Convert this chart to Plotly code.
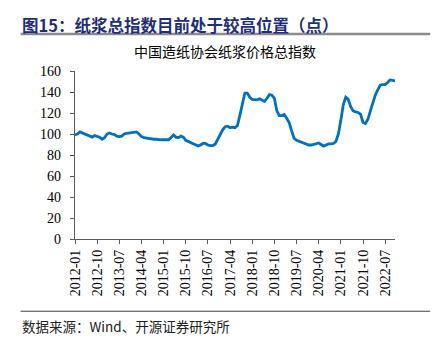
import plotly.graph_objects as go
import pandas as pd

months = pd.date_range("2012-01-01", periods=131, freq="MS").strftime("%Y-%m").tolist()
values = [
    99, 100, 102, 101, 99.5, 99, 97.5, 97, 98.5, 98,
    97, 95, 96.5, 100, 101, 100, 99.5, 98, 97.5, 98,
    100, 100.5, 101, 101, 101.5, 102, 100, 97.5, 96.5, 96,
    96, 95.5, 95, 95, 94.5, 94.5, 94.5, 94.3, 94.5, 96.5,
    99, 97, 96.5, 98, 97, 94, 93, 92, 91, 90,
    88.5, 89.5, 91, 91, 89.5, 89, 89, 90.5, 95, 100.5,
    104, 107, 107.5, 106, 106.5, 106, 108, 118, 130, 139,
    139, 135, 133, 132.5, 132.5, 133.5, 132, 131, 134, 137.5,
    137, 134, 122, 117.5, 117.5, 118.5, 115, 111, 103, 96,
    94, 93, 92, 91.5, 90.5, 89.5, 89.5, 90, 90.5, 91.5,
    90, 88.5, 89.5, 90.5, 90.5, 91, 93, 100, 113, 128,
    135, 133, 126, 122, 121, 120.5, 119, 111, 110, 114,
    122, 130, 137, 142, 146.5, 147, 147, 149, 151.5, 151, 150.5,
]
tick_labels = months[::9]
y_ticks = [0, 20, 40, 60, 80, 100, 120, 140, 160]

main_title = "图15：纸浆总指数目前处于较高位置（点）"
chart_title = "中国造纸协会纸浆价格总指数"
source_text = "数据来源：Wind、开源证券研究所"

fig = go.Figure()
fig.add_trace(go.Scatter(
    x=months, y=values, mode="lines",
    line=dict(color="#0070C0", width=2.8),
    hoverinfo="skip", showlegend=False,
))

serif = "Liberation Serif, Times New Roman, serif"
fig.update_layout(
    width=442, height=344,
    margin=dict(l=75, r=47, t=71, b=105),
    paper_bgcolor="white", plot_bgcolor="white",
    xaxis=dict(
        type="category", range=[0, len(months) - 1], autorange=False,
        tickmode="array", tickvals=tick_labels, ticktext=tick_labels,
        tickangle=-90, ticks="outside", ticklen=4, tickcolor="#595959",
        showline=True, linecolor="#595959", linewidth=1.2,
        showgrid=False, zeroline=False,
        tickfont=dict(family=serif, size=14, color="#000000"),
    ),
    yaxis=dict(
        range=[0, 160], autorange=False,
        tickmode="array", tickvals=y_ticks,
        ticks="outside", ticklen=4, tickcolor="#595959",
        showline=True, linecolor="#595959", linewidth=1.2,
        showgrid=False, zeroline=False,
        ticklabelstandoff=6,
        tickfont=dict(family=serif, size=14, color="#000000"),
    ),
    shapes=[
        dict(type="line", xref="paper", yref="paper", x0=-0.17, x1=1.11,
             y0=1.22, y1=1.22, line=dict(color="#8c8c8c", width=2.5)),
        dict(type="line", xref="paper", yref="paper", x0=-0.17, x1=1.11,
             y0=-0.43, y1=-0.43, line=dict(color="#404040", width=1)),
    ],
    annotations=[
        dict(text="<b>" + main_title + "</b>", xref="paper", yref="paper",
             x=-0.172, y=1.275, xanchor="left", yanchor="middle", showarrow=False,
             font=dict(family="Noto Sans CJK SC", size=16.5, color="#1F2D7B")),
        dict(text=chart_title, xref="paper", yref="paper",
             x=0.47, y=1.12, xanchor="center", yanchor="middle", showarrow=False,
             font=dict(family="Noto Sans CJK SC", size=14, color="#000000")),
        dict(text=source_text, xref="paper", yref="paper",
             x=-0.172, y=-0.52, xanchor="left", yanchor="middle", showarrow=False,
             font=dict(family="Noto Sans CJK SC", size=13.5, color="#222222")),
    ],
)

fig.write_html("out.html")
